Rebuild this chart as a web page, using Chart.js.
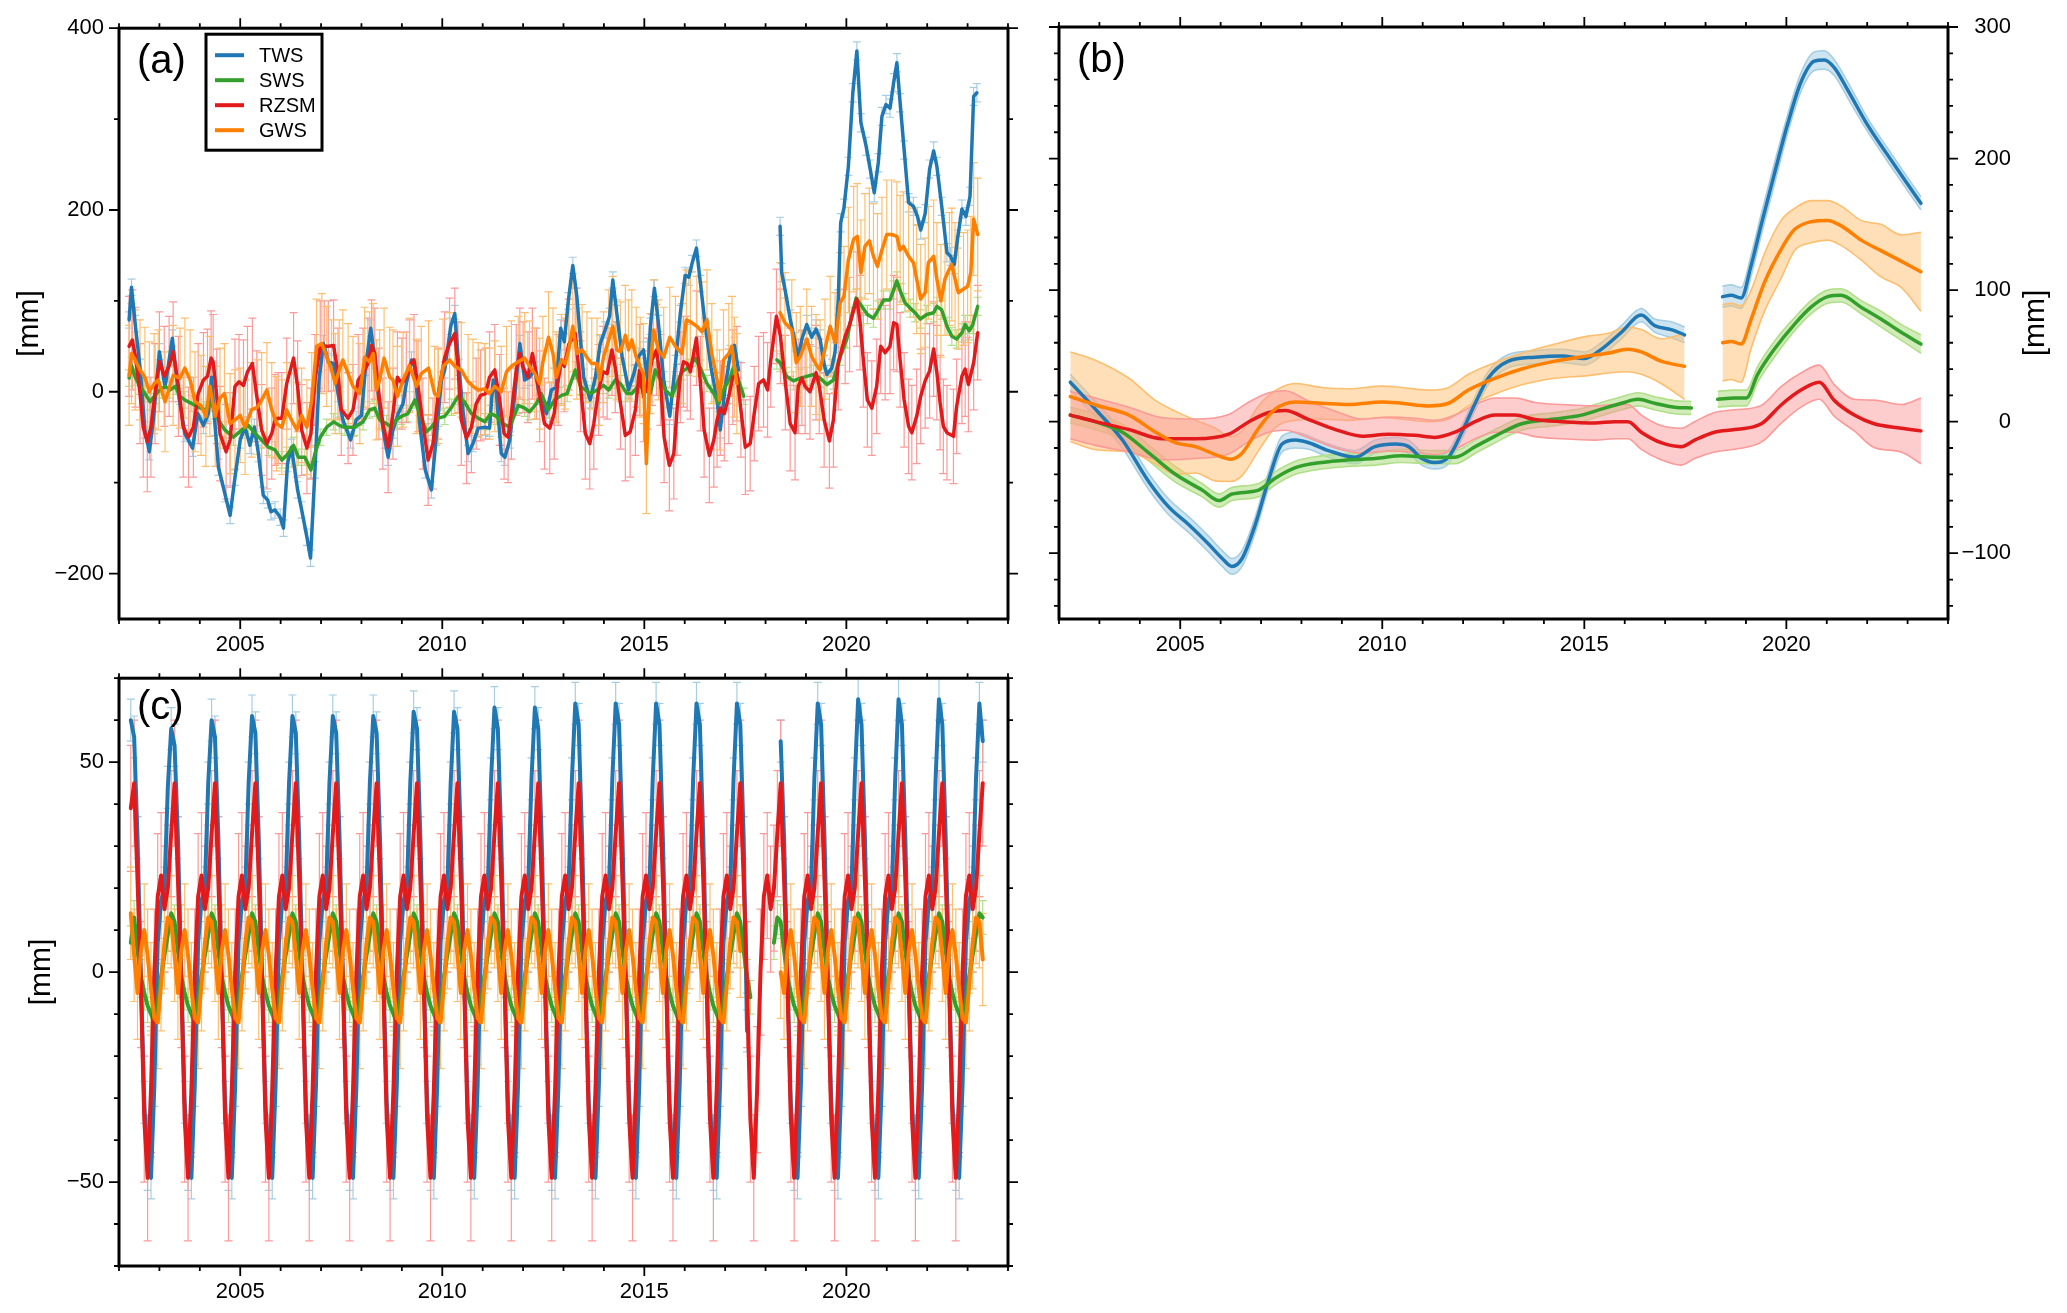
<!DOCTYPE html>
<html>
<head>
<meta charset="utf-8">
<script src="https://cdn.jsdelivr.net/npm/chart.js@4.4.1/dist/chart.umd.min.js"></script>
<style>
  html, body { margin: 0; padding: 0; background: #fff; }
  #wrap { position: relative; width: 2067px; height: 1313px; overflow: hidden; }
  canvas { position: absolute; }
</style>
</head>
<body>
<div id="wrap">
  <canvas id="chartA" width="1040" height="672" style="left:0;top:0;width:1040px;height:672px"></canvas>
  <canvas id="chartB" width="1027" height="672" style="left:1040px;top:0;width:1027px;height:672px"></canvas>
  <canvas id="chartC" width="1040" height="663" style="left:0;top:650px;width:1040px;height:663px"></canvas>
</div>
<script>
'use strict';

//----- data -----

const seriesNames = ['TWS', 'SWS', 'RZSM', 'GWS'];
const xLabels = [2005, 2010, 2015, 2020];

// panel (a): monthly anomalies [mm]
const twsA_t = [
  2002.25, 2002.31, 2002.40, 2002.52, 2002.64, 2002.75, 2002.85, 2003.00, 2003.14, 2003.32,
  2003.47, 2003.63, 2003.82, 2003.95, 2004.09, 2004.21, 2004.29, 2004.38, 2004.46, 2004.62,
  2004.75, 2004.87, 2005.00, 2005.12, 2005.24, 2005.35, 2005.45, 2005.57, 2005.68, 2005.76,
  2005.86, 2005.99, 2006.07, 2006.17, 2006.27, 2006.42, 2006.52, 2006.65, 2006.74, 2006.85,
  2006.95, 2007.06, 2007.18, 2007.31, 2007.42, 2007.54, 2007.73, 2007.87, 2008.00, 2008.10,
  2008.23, 2008.33, 2008.45, 2008.58, 2008.66, 2008.78, 2008.91, 2009.03, 2009.11, 2009.24,
  2009.32, 2009.44, 2009.58, 2009.73, 2009.85, 2009.98, 2010.06, 2010.21, 2010.31, 2010.41,
  2010.51, 2010.64, 2010.76, 2010.89, 2011.05, 2011.17, 2011.26, 2011.34, 2011.46, 2011.55,
  2011.67, 2011.79, 2011.92, 2012.04, 2012.16, 2012.29, 2012.41, 2012.58, 2012.70, 2012.82,
  2012.93, 2013.02, 2013.12, 2013.23, 2013.33, 2013.42, 2013.50, 2013.66, 2013.79, 2013.91,
  2014.03, 2014.14, 2014.22, 2014.32, 2014.45, 2014.61, 2014.74, 2014.86, 2014.98, 2015.08,
  2015.15, 2015.25, 2015.35, 2015.48, 2015.63, 2015.77, 2015.89, 2016.01, 2016.10, 2016.18,
  2016.29, 2016.39, 2016.51, 2016.65, 2016.80, 2016.88, 2017.00, 2017.13, 2017.23, 2017.33,
  2017.85, 2018.36, 2018.40, 2018.48, 2018.61, 2018.73, 2018.81, 2018.90, 2019.02, 2019.14,
  2019.25, 2019.35, 2019.45, 2019.52, 2019.64, 2019.72, 2019.80, 2019.86, 2019.94, 2020.05,
  2020.16, 2020.26, 2020.36, 2020.49, 2020.59, 2020.69, 2020.79, 2020.88, 2020.98, 2021.08,
  2021.17, 2021.25, 2021.33, 2021.43, 2021.54, 2021.66, 2021.76, 2021.84, 2021.95, 2022.06,
  2022.16, 2022.24, 2022.36, 2022.49, 2022.58, 2022.67, 2022.75, 2022.86, 2022.96, 2023.06,
  2023.15, 2023.23
];
const twsA_v = [
  79, 115, 75, 27, -42, -66, -31, 44, 5, 59,
  -2, -46, -62, -24, -37, -24, 16, -39, -83, -112,
  -136, -94, -53, -39, -59, -39, -68, -114, -119, -132,
  -130, -138, -150, -79, -61, -108, -130, -160, -183, -86,
  13, 53, 33, 31, -2, -31, -53, -31, -26, 27,
  70, 35, -17, -53, -72, -42, -24, -13, 9, 35,
  27, -35, -86, -108, -50, 13, 24, 72, 86, 27,
  -20, -68, -57, -40, -39, -40, 13, -2, -68, -72,
  -53, -5, 53, 13, 16, 24, -5, -24, 2, 5,
  70, 55, 100, 139, 105, 57, 16, -9, 16, 53,
  68, 83, 123, 86, 39, 2, 20, 39, 46, 13,
  72, 114, 75, 13, -27, 31, 86, 128, 126, 141,
  158, 119, 72, 27, -9, -42, 5, 42, 51, 24,
  null, 182, 131, 113, 80, 55, 37, 58, 74, 60,
  69, 58, 30, 19, 26, 44, 102, 186, 202, 248,
  329, 375, 296, 270, 245, 219, 252, 303, 316, 312,
  340, 362, 318, 266, 208, 204, 193, 178, 196, 245,
  265, 248, 204, 153, 149, 140, 168, 201, 193, 215,
  325, 329
];

const swsA_t = [
  2002.25, 2002.31, 2002.40, 2002.52, 2002.64, 2002.77, 2002.89, 2003.01, 2003.14, 2003.26,
  2003.39, 2003.51, 2003.63, 2003.80, 2003.96, 2004.13, 2004.29, 2004.46, 2004.62, 2004.83,
  2005.04, 2005.20, 2005.37, 2005.53, 2005.70, 2005.86, 2006.03, 2006.15, 2006.32, 2006.44,
  2006.60, 2006.75, 2006.85, 2006.98, 2007.14, 2007.31, 2007.45, 2007.59, 2007.83, 2008.04,
  2008.20, 2008.33, 2008.45, 2008.62, 2008.74, 2008.86, 2008.99, 2009.15, 2009.32, 2009.44,
  2009.61, 2009.73, 2009.90, 2010.06, 2010.23, 2010.39, 2010.55, 2010.72, 2010.89, 2011.05,
  2011.20, 2011.34, 2011.50, 2011.67, 2011.88, 2012.04, 2012.16, 2012.33, 2012.45, 2012.62,
  2012.78, 2012.95, 2013.09, 2013.29, 2013.42, 2013.54, 2013.66, 2013.83, 2013.99, 2014.12,
  2014.28, 2014.41, 2014.57, 2014.69, 2014.86, 2015.02, 2015.15, 2015.27, 2015.40, 2015.52,
  2015.68, 2015.81, 2015.93, 2016.10, 2016.26, 2016.39, 2016.55, 2016.72, 2016.84, 2016.96,
  2017.13, 2017.21, 2017.33, 2017.46, 2017.85, 2018.28, 2018.36, 2018.52, 2018.69, 2018.86,
  2019.02, 2019.19, 2019.35, 2019.52, 2019.68, 2019.85, 2020.01, 2020.13, 2020.24, 2020.38,
  2020.52, 2020.67, 2020.79, 2020.92, 2021.08, 2021.17, 2021.25, 2021.35, 2021.45, 2021.58,
  2021.70, 2021.83, 2021.99, 2022.16, 2022.24, 2022.36, 2022.49, 2022.61, 2022.73, 2022.86,
  2022.94, 2023.04, 2023.13, 2023.25
];
const swsA_v = [
  15, 29, 16, 6, -2, -11, -4, 2, 6, 2,
  6, -5, -9, -13, -17, -20, -13, -31, -42, -50,
  -42, -37, -46, -53, -61, -64, -75, -70, -59, -72,
  -72, -86, -68, -50, -39, -33, -37, -39, -39, -33,
  -20, -18, -31, -35, -39, -31, -27, -24, -9, -24,
  -44, -39, -29, -27, -17, -5, -11, -24, -29, -33,
  -24, -27, -35, -39, -15, -18, -22, -13, -2, -20,
  -9, -4, -2, 24, 6, 2, -2, 2, 7, 2,
  13, 9, -2, -2, 7, 2, -2, 24, 13, 2,
  -5, 9, 22, 27, 37, 26, 9, -2, -13, 2,
  16, 27, 13, -5, null, 35, 32, 17, 12, 15,
  17, 19, 15, 8, 13, 39, 58, 83, 103, 94,
  85, 81, 90, 101, 101, 112, 122, 109, 98, 92,
  87, 80, 85, 87, 94, 90, 72, 61, 58, 65,
  74, 67, 74, 94
];

const rzsmA_t = [
  2002.25, 2002.33, 2002.41, 2002.52, 2002.60, 2002.70, 2002.79, 2002.89, 2003.00, 2003.12,
  2003.24, 2003.34, 2003.47, 2003.59, 2003.72, 2003.84, 2003.96, 2004.09, 2004.19, 2004.28,
  2004.33, 2004.42, 2004.50, 2004.65, 2004.75, 2004.87, 2004.97, 2005.08, 2005.18, 2005.30,
  2005.41, 2005.53, 2005.66, 2005.78, 2005.86, 2005.94, 2006.03, 2006.15, 2006.32, 2006.42,
  2006.52, 2006.65, 2006.75, 2006.85, 2006.98, 2007.08, 2007.18, 2007.31, 2007.42, 2007.50,
  2007.67, 2007.79, 2007.92, 2008.04, 2008.16, 2008.25, 2008.33, 2008.43, 2008.53, 2008.66,
  2008.78, 2008.89, 2009.00, 2009.11, 2009.19, 2009.30, 2009.40, 2009.52, 2009.65, 2009.77,
  2009.90, 2010.06, 2010.18, 2010.31, 2010.39, 2010.47, 2010.60, 2010.72, 2010.84, 2010.95,
  2011.07, 2011.17, 2011.30, 2011.42, 2011.53, 2011.63, 2011.71, 2011.83, 2011.92, 2012.00,
  2012.12, 2012.23, 2012.33, 2012.41, 2012.53, 2012.66, 2012.77, 2012.87, 2012.95, 2013.02,
  2013.13, 2013.29, 2013.42, 2013.54, 2013.65, 2013.75, 2013.87, 2013.98, 2014.08, 2014.20,
  2014.28, 2014.41, 2014.53, 2014.65, 2014.78, 2014.88, 2014.98, 2015.08, 2015.19, 2015.30,
  2015.40, 2015.49, 2015.62, 2015.73, 2015.81, 2015.89, 2015.97, 2016.06, 2016.14, 2016.29,
  2016.39, 2016.48, 2016.61, 2016.72, 2016.80, 2016.88, 2016.98, 2017.09, 2017.19, 2017.29,
  2017.39, 2017.50, 2017.62, 2017.72, 2017.83, 2017.95, 2018.05, 2018.13, 2018.27, 2018.37,
  2018.49, 2018.61, 2018.73, 2018.81, 2018.90, 2018.98, 2019.10, 2019.25, 2019.33, 2019.45,
  2019.58, 2019.68, 2019.80, 2019.97, 2020.08, 2020.26, 2020.34, 2020.42, 2020.52, 2020.63,
  2020.75, 2020.85, 2020.96, 2021.08, 2021.17, 2021.25, 2021.33, 2021.43, 2021.54, 2021.62,
  2021.74, 2021.84, 2021.95, 2022.06, 2022.16, 2022.24, 2022.32, 2022.40, 2022.49, 2022.65,
  2022.73, 2022.86, 2022.94, 2023.02, 2023.15, 2023.25
];
const rzsmA_v = [
  50, 57, 38, -2, -39, -55, -39, -2, 33, 17,
  28, 44, 6, -39, -50, -39, -2, 13, 17, 37,
  33, -5, -46, -66, -53, 6, 11, 7, 22, 31,
  -5, -42, -57, -46, -31, -29, -29, 9, 37, 6,
  -42, -62, -46, 13, 50, 50, 50, 51, 20, -20,
  -29, -20, 13, 20, 31, 51, 42, -2, -35, -61,
  -24, 16, 9, 16, 29, 35, 6, -35, -75, -57,
  -2, 38, 53, 64, 27, -31, -51, -39, -13, -4,
  -2, 16, 24, -9, -46, -50, -24, 24, 42, 27,
  16, 42, 20, -5, -35, -40, -24, 13, 35, 28,
  52, 64, 6, -46, -57, -35, 2, 22, 20, 46,
  27, -13, -48, -44, -20, 24, -5, 9, 35, 46,
  13, -50, -81, -68, -20, 16, 33, 31, 22, 59,
  9, -42, -70, -53, -31, -18, -24, -5, 16, 20,
  -20, -61, -57, -24, 9, 13, 2, 35, 83, 61,
  10, -35, -45, 6, 15, 6, 0, 21, 6, -31,
  -54, -31, 32, 61, 74, 102, 76, 35, -9, -18,
  6, 50, 43, 50, 76, 74, 35, -9, -38, -45,
  -27, -5, 12, 23, 47, 21, -12, -38, -45, -49,
  -16, 17, 25, 8, 32, 65
];

const gwsA_t = [
  2002.25, 2002.31, 2002.40, 2002.52, 2002.64, 2002.75, 2002.87, 2002.97, 2003.14, 2003.34,
  2003.51, 2003.63, 2003.76, 2003.88, 2004.03, 2004.15, 2004.25, 2004.38, 2004.50, 2004.61,
  2004.75, 2004.87, 2005.00, 2005.12, 2005.28, 2005.43, 2005.53, 2005.66, 2005.78, 2005.90,
  2006.03, 2006.15, 2006.27, 2006.40, 2006.52, 2006.65, 2006.77, 2006.89, 2007.02, 2007.14,
  2007.26, 2007.35, 2007.45, 2007.54, 2007.67, 2007.79, 2007.96, 2008.08, 2008.20, 2008.29,
  2008.37, 2008.45, 2008.56, 2008.70, 2008.78, 2008.89, 2009.03, 2009.19, 2009.36, 2009.48,
  2009.66, 2009.81, 2009.90, 2010.02, 2010.18, 2010.31, 2010.47, 2010.64, 2010.76, 2010.89,
  2011.05, 2011.17, 2011.30, 2011.46, 2011.59, 2011.71, 2011.88, 2012.04, 2012.16, 2012.29,
  2012.41, 2012.49, 2012.63, 2012.74, 2012.82, 2012.95, 2013.04, 2013.13, 2013.23, 2013.33,
  2013.46, 2013.58, 2013.70, 2013.83, 2013.89, 2013.99, 2014.12, 2014.22, 2014.32, 2014.41,
  2014.53, 2014.61, 2014.69, 2014.80, 2014.90, 2014.98, 2015.05, 2015.15, 2015.23, 2015.35,
  2015.48, 2015.63, 2015.77, 2015.93, 2016.04, 2016.14, 2016.30, 2016.43, 2016.55, 2016.67,
  2016.80, 2016.86, 2016.96, 2017.09, 2017.17, 2017.23, 2017.29, 2017.85, 2018.36, 2018.48,
  2018.65, 2018.76, 2018.86, 2019.02, 2019.14, 2019.25, 2019.35, 2019.47, 2019.60, 2019.72,
  2019.85, 2019.94, 2020.05, 2020.18, 2020.27, 2020.36, 2020.46, 2020.57, 2020.67, 2020.77,
  2020.88, 2021.00, 2021.12, 2021.25, 2021.33, 2021.41, 2021.54, 2021.66, 2021.74, 2021.84,
  2021.95, 2022.03, 2022.16, 2022.24, 2022.34, 2022.44, 2022.55, 2022.61, 2022.69, 2022.77,
  2022.90, 2023.00, 2023.08, 2023.15, 2023.25
];
const gwsA_v = [
  18, 42, 35, 24, 16, 0, 9, 13, -11, 18,
  15, 26, 13, -11, -15, -27, 6, -27, -7, -2,
  -35, -31, -26, -39, -20, -17, -9, 2, -20, -35,
  -39, -20, -31, -42, -26, -39, -9, 50, 53, 39,
  24, 9, 24, 35, 20, 6, -2, 38, 33, 42,
  2, 13, 37, 16, 13, -5, 13, 29, 6, 20,
  26, -2, -5, 28, 35, 28, 24, 11, 6, 2,
  3, -2, 6, 0, 22, 28, 33, 37, 28, 20,
  9, 33, 60, 42, 16, 35, 31, 46, 72, 42,
  46, 38, 31, 31, 13, 38, 57, 72, 46, 44,
  62, 46, 57, 38, 27, 20, -79, 31, 68, 46,
  38, 60, 50, 42, 79, 77, 72, 66, 79, 42,
  13, -9, 35, 42, 50, 27, 9, null, 87, 76,
  68, 32, 39, 58, 39, 30, 24, 47, 72, 54,
  98, 105, 145, 168, 171, 131, 160, 166, 149, 138,
  156, 173, 173, 171, 156, 160, 149, 142, 124, 102,
  109, 142, 149, 124, 100, 124, 135, 140, 124, 109,
  113, 116, 131, 190, 173
];

// error half-widths per calendar year 2002..2023 [mm]
const errA_tws  = [9, 9, 9, 9, 9, 9, 9, 9, 9, 9, 9, 9, 9, 9, 9, 9, 10, 10, 10, 10, 10, 10];
const errA_sws  = [9, 9, 9, 9, 9, 9, 9, 9, 9, 9, 9, 9, 9, 9, 9, 9, 10, 10, 10, 10, 10, 10];
const errA_rzsm = [55, 55, 52, 50, 50, 50, 50, 50, 50, 50, 50, 50, 50, 50, 52, 52, 52, 52, 52, 52, 52, 52];
const errA_gws  = [55, 55, 55, 52, 52, 55, 55, 52, 52, 50, 50, 50, 55, 55, 55, 55, 55, 55, 58, 60, 62, 62];

// panel (b): long-term component [mm]
const twsB_t = [
  2002.28, 2002.90, 2003.57, 2004.23, 2004.72, 2005.20, 2005.70, 2006.04, 2006.28, 2006.53,
  2006.86, 2007.20, 2007.52, 2007.85, 2008.18, 2008.67, 2009.33, 2009.82, 2010.32, 2010.65,
  2010.98, 2011.30, 2011.64, 2011.97, 2012.30, 2012.62, 2013.12, 2013.78, 2014.43, 2015.01,
  2015.42, 2015.92, 2016.41, 2016.74, 2017.15, 2017.48, 2017.90, 2018.42, 2018.63, 2018.88,
  2019.13, 2019.38, 2019.70, 2020.03, 2020.36, 2020.69, 2020.94, 2021.19, 2021.52, 2022.00,
  2022.50, 2022.90, 2023.33
];
const twsB_v = [
  30, 9.5, -14, -46, -65, -78, -93, -104, -110, -104,
  -78, -43, -17, -14, -16, -22, -27, -19, -17, -19,
  -28, -31, -27, -8, 14, 33, 46, 49, 50, 48,
  55, 68, 81, 73, 70, 66, null, 95, 96, 94,
  119, 150, 188, 226, 258, 274, 275, 269, 252, 226,
  203, 185, 166
];
const swsB_t = [
  2002.28, 2002.90, 2003.57, 2004.23, 2004.88, 2005.54, 2005.96, 2006.28, 2006.94, 2007.35,
  2007.85, 2008.50, 2009.17, 2009.82, 2010.48, 2011.30, 2011.80, 2012.30, 2012.79, 2013.45,
  2014.27, 2014.93, 2015.42, 2015.92, 2016.33, 2016.74, 2017.23, 2017.65, 2017.95, 2018.30,
  2018.72, 2019.01, 2019.29, 2019.70, 2020.20, 2020.61, 2021.02, 2021.35, 2021.85, 2022.34,
  2022.84, 2023.33
];
const swsB_v = [
  5, 0, -8, -24, -40, -52, -60, -55, -52, -43,
  -35, -31, -29, -28, -26, -27, -27, -19, -11, -1.6,
  2, 5, 9.5, 14, 17, 14, 11, 10.4, null, 17,
  18, 18, 36, 55, 74, 87, 95, 96, 87, 78,
  68, 59
];
const rzsmB_t = [
  2002.28, 2002.90, 2003.73, 2004.56, 2005.38, 2006.20, 2006.70, 2007.19, 2007.60, 2008.18,
  2008.84, 2009.50, 2010.15, 2010.81, 2011.30, 2011.80, 2012.30, 2012.79, 2013.28, 2013.78,
  2014.43, 2015.26, 2015.75, 2016.08, 2016.41, 2016.90, 2017.40, 2017.73, 2018.22, 2018.72,
  2019.38, 2019.87, 2020.36, 2020.81, 2021.19, 2021.68, 2022.17, 2022.84, 2023.33
];
const rzsmB_v = [
  5, 0, -6, -13, -13, -9.5, 0, 7, 8.5, 1.6,
  -6, -11, -9.5, -10.4, -12, -8, 0, 5, 5, 1.6,
  0, -1, 0, 0, -8, -16, -19, -14, -8, -6,
  -1.6, 12.7, 24, 30, 16, 5, -1.6, -5, -7
];
const gwsB_t = [
  2002.28, 2002.90, 2003.73, 2004.39, 2004.88, 2005.38, 2005.87, 2006.25, 2006.53, 2006.94,
  2007.35, 2007.85, 2008.50, 2009.17, 2009.99, 2010.48, 2011.14, 2011.64, 2012.13, 2012.79,
  2013.45, 2014.27, 2015.09, 2015.58, 2016.08, 2016.41, 2016.90, 2017.48, 2017.90, 2018.42,
  2018.63, 2018.88, 2019.13, 2019.46, 2019.87, 2020.20, 2020.61, 2021.02, 2021.35, 2021.85,
  2022.34, 2022.84, 2023.33
];
const gwsB_v = [
  19, 12.7, 5, -8, -16, -19, -25, -28.5, -24, -5,
  9.5, 15, 14, 13, 15, 14, 12, 14, 24, 33,
  40, 46, 50, 52, 55, 53, 46, 42, null, 60,
  61, 59, 78, 106, 131, 146, 152, 153, 149, 138,
  130, 122, 114
];

const errB_tws  = [6, 6, 6, 6, 6, 6, 5, 5, 5, 5, 5, 5, 5, 5, 5, 6, 8, 8, 7, 6, 5, 5];
const errB_sws  = [6, 6, 6, 5, 5, 5, 5, 5, 5, 5, 5, 5, 5, 5, 5, 5, 6, 6, 5, 5, 6, 7];
const errB_rzsm = [18, 17, 16, 15, 15, 15, 14, 13, 13, 13, 13, 13, 13, 13, 13, 14, 15, 14, 13, 12, 18, 25];
const errB_gws  = [34, 28, 24, 20, 17, 14, 12, 12, 12, 12, 12, 12, 13, 15, 17, 25, 29, 22, 16, 15, 20, 30];

// panel (c): seasonal component, one row per year (Jan..Dec) [mm]
const yearsC = [2002, 2003, 2004, 2005, 2006, 2007, 2008, 2009, 2010, 2011, 2012,
                2013, 2014, 2015, 2016, 2017, 2018, 2019, 2020, 2021, 2022, 2023];
const twsC = [
  [null, null, null, 60, 56, 32, -1, -31, -47, -49, -27, 7],
  [17, 20, 44, 58, 54, 32, -1, -31, -47, -49, -27, 7],
  [17, 20, 45, 60, 56, 32, -1, -31, -47, -49, -27, 7],
  [17, 20, 45, 61, 57, 32, -1, -31, -47, -49, -27, 7],
  [17, 20, 45, 61, 57, 32, -1, -31, -47, -49, -27, 7],
  [17, 20, 45, 61, 57, 32, -1, -31, -47, -49, -27, 7],
  [17, 20, 45, 61, 57, 32, -1, -31, -47, -49, -27, 7],
  [17, 20, 45, 62, 58, 32, -1, -31, -47, -49, -27, 7],
  [17, 20, 45, 62, 58, 32, -1, -31, -47, -49, -27, 7],
  [17, 20, 46, 63, 58, 32, -1, -31, -47, -49, -27, 7],
  [17, 20, 46, 63, 58, 32, -1, -31, -47, -49, -27, 7],
  [17, 20, 46, 64, 59, 32, -1, -31, -47, -49, -27, 7],
  [17, 20, 46, 64, 59, 32, -1, -31, -47, -49, -27, 7],
  [17, 20, 46, 64, 59, 32, -1, -31, -47, -49, -27, 7],
  [17, 20, 46, 64, 59, 32, -1, -31, -47, -49, -27, 7],
  [17, 20, 46, 64, 59, 32, -14, null, null, null, null, null],
  [null, null, null, null, 55, 32, -1, -31, -47, -49, -27, 7],
  [17, 20, 46, 64, 59, 32, -1, -31, -47, -49, -27, 7],
  [17, 20, 46, 65, 59, 32, -1, -31, -47, -49, -27, 7],
  [17, 20, 46, 65, 59, 32, -1, -31, -47, -49, -27, 7],
  [17, 20, 46, 65, 59, 32, -1, -31, -47, -49, -27, 7],
  [17, 20, 46, 64, 55]
];
const swsC = [
  [null, null, null, 7, 13, 5, -1, -5, -8, -10, -12, -7],
  [-1, 4, 9, 14, 12, 5, -1, -5, -8, -10, -12, -7],
  [-1, 4, 9, 14, 12, 5, -1, -5, -8, -10, -12, -7],
  [-1, 4, 9, 14, 12, 5, -1, -5, -8, -10, -12, -7],
  [-1, 4, 9, 14, 12, 5, -1, -5, -8, -10, -12, -7],
  [-1, 4, 9, 14, 12, 5, -1, -5, -8, -10, -12, -7],
  [-1, 4, 9, 14, 12, 5, -1, -5, -8, -10, -12, -7],
  [-1, 4, 9, 14, 12, 5, -1, -5, -8, -10, -12, -7],
  [-1, 4, 9, 14, 12, 5, -1, -5, -8, -10, -12, -7],
  [-1, 4, 9, 14, 12, 5, -1, -5, -8, -10, -12, -7],
  [-1, 4, 9, 14, 12, 5, -1, -5, -8, -10, -12, -7],
  [-1, 4, 9, 14, 12, 5, -1, -5, -8, -10, -12, -7],
  [-1, 4, 9, 14, 12, 5, -1, -5, -8, -10, -12, -7],
  [-1, 4, 9, 14, 12, 5, -1, -5, -8, -10, -12, -7],
  [-1, 4, 9, 14, 12, 5, -1, -5, -8, -10, -12, -7],
  [-1, 4, 9, 14, 12, 5, -1, -6, null, null, null, null],
  [null, null, 7, 13, 12, 5, -1, -5, -8, -10, -12, -7],
  [-1, 4, 9, 14, 12, 5, -1, -5, -8, -10, -12, -7],
  [-1, 4, 9, 14, 12, 5, -1, -5, -8, -10, -12, -7],
  [-1, 4, 9, 14, 12, 5, -1, -5, -8, -10, -12, -7],
  [-1, 4, 9, 14, 12, 5, -1, -5, -8, -10, -12, -7],
  [-1, 4, 9, 14, 13]
];
const rzsmC = [
  [null, null, null, 39, 45, 22, -3, -35, -49, -28, 0, 18],
  [23, 15, 20, 33, 45, 22, -3, -35, -49, -28, 0, 18],
  [23, 15, 20, 33, 45, 22, -3, -35, -49, -28, 0, 18],
  [23, 15, 20, 33, 45, 22, -3, -35, -49, -28, 0, 18],
  [23, 15, 20, 33, 45, 22, -3, -35, -49, -28, 0, 18],
  [23, 15, 20, 33, 45, 22, -3, -35, -49, -28, 0, 18],
  [23, 15, 20, 33, 45, 22, -3, -35, -49, -28, 0, 18],
  [23, 15, 20, 33, 45, 22, -3, -35, -49, -28, 0, 18],
  [23, 15, 20, 33, 45, 22, -3, -35, -49, -28, 0, 18],
  [23, 15, 20, 33, 45, 22, -3, -35, -49, -28, 0, 18],
  [23, 15, 20, 33, 45, 22, -3, -35, -49, -28, 0, 18],
  [23, 15, 20, 33, 45, 22, -3, -35, -49, -28, 0, 18],
  [23, 15, 20, 33, 45, 22, -3, -35, -49, -28, 0, 18],
  [23, 15, 20, 33, 45, 22, -3, -35, -49, -28, 0, 18],
  [23, 15, 20, 33, 45, 22, -3, -35, -49, -28, 0, 18],
  [23, 15, 20, 33, 45, 22, -3, -35, -49, -28, 0, 18],
  [23, 15, 20, 33, 45, 22, -3, -35, -49, -28, 0, 18],
  [23, 15, 20, 33, 45, 22, -3, -35, -49, -28, 0, 18],
  [23, 15, 20, 33, 45, 22, -3, -35, -49, -28, 0, 18],
  [23, 15, 20, 33, 45, 22, -3, -35, -49, -28, 0, 18],
  [23, 15, 20, 33, 45, 22, -3, -35, -49, -28, 0, 18],
  [23, 15, 20, 33, 45]
];
const gwsC = [
  [null, null, null, 14, 4, -5, 5, 10, 4, -4, -11, -12],
  [-3, 7, 13, 12, 4, -5, 5, 10, 4, -4, -11, -12],
  [-3, 7, 13, 12, 4, -5, 5, 10, 4, -4, -11, -12],
  [-3, 7, 13, 12, 4, -5, 5, 10, 4, -4, -11, -12],
  [-3, 7, 13, 12, 4, -5, 5, 10, 4, -4, -11, -12],
  [-3, 7, 13, 12, 4, -5, 5, 10, 4, -4, -11, -12],
  [-3, 7, 13, 12, 4, -5, 5, 10, 4, -4, -11, -12],
  [-3, 7, 13, 12, 4, -5, 5, 10, 4, -4, -11, -12],
  [-3, 7, 13, 12, 4, -5, 5, 10, 4, -4, -11, -12],
  [-3, 7, 13, 12, 4, -5, 5, 10, 4, -4, -11, -12],
  [-3, 7, 13, 12, 4, -5, 5, 10, 4, -4, -11, -12],
  [-3, 7, 13, 12, 4, -5, 5, 10, 4, -4, -11, -12],
  [-3, 7, 13, 12, 4, -5, 5, 10, 4, -4, -11, -12],
  [-3, 7, 13, 12, 4, -5, 5, 10, 4, -4, -11, -12],
  [-3, 7, 13, 12, 4, -5, 5, 10, 4, -4, -11, -12],
  [-3, 7, 13, 12, 5, null, null, null, null, null, null, null],
  [null, null, null, null, 0, -5, 5, 10, 4, -4, -11, -12],
  [-3, 7, 13, 12, 4, -5, 5, 10, 4, -4, -11, -12],
  [-3, 7, 13, 12, 4, -5, 5, 10, 4, -4, -11, -12],
  [-3, 7, 13, 12, 4, -5, 5, 10, 4, -4, -11, -12],
  [-3, 7, 13, 12, 4, -5, 5, 10, 4, -4, -11, -12],
  [-3, 7, 13, 12, 3]
];
const errC_tws = 5;
const errC_sws = 4;
const errC_rzsm = 15;
const errC_gws = 11;

//----- styles -----

const COLOR = { tws: '#1f78b4', sws: '#33a02c', rzsm: '#e31a1c', gws: '#ff7f00' };
const LIGHT = { tws: '#a6cee3', sws: '#b2df8a', rzsm: '#fb9a99', gws: '#fdbf6f' };
const BAND  = { tws: 'rgba(166,206,227,0.55)', sws: 'rgba(178,223,138,0.6)',
                rzsm: 'rgba(251,154,153,0.5)', gws: 'rgba(253,191,111,0.5)' };
const FONT = '"Liberation Sans", Arial, Helvetica, sans-serif';

Chart.defaults.font.family = FONT;
Chart.defaults.color = '#000';
Chart.defaults.animation = false;

//----- helpers -----

const pts = (ts, vs) => ts.map((t, i) => ({ x: t, y: vs[i] }));
const yearErr = (ts, table) =>
  ts.map(t => table[Math.min(table.length - 1, Math.max(0, Math.floor(t) - 2002))]);
const minus = v => String(v).replace('-', '\u2212');

function monthly(rows) {
  const out = [];
  rows.forEach((row, yi) => row.forEach((v, m) => out.push({ x: yearsC[yi] + (m + 0.5) / 12, y: v })));
  return out;
}

function lineDs(key, data, errs, order, width, smooth) {
  return {
    label: key, data, errs, errColor: LIGHT[key],
    borderColor: COLOR[key], borderWidth: width, pointRadius: 0, fill: false,
    spanGaps: false, order, borderJoinStyle: 'round', borderCapStyle: 'round',
    tension: 0, cubicInterpolationMode: smooth ? 'monotone' : 'default'
  };
}

// band edges for panel (b)
function bandDs(key, ts, vs, table) {
  const e = yearErr(ts, table);
  const lo = ts.map((t, i) => ({ x: t, y: vs[i] == null ? null : vs[i] - e[i] }));
  const hi = ts.map((t, i) => ({ x: t, y: vs[i] == null ? null : vs[i] + e[i] }));
  const common = { borderColor: LIGHT[key], borderWidth: 1.6, pointRadius: 0, spanGaps: false,
                   order: 10, cubicInterpolationMode: 'monotone' };
  return [
    Object.assign({ label: key + ' lo', data: lo, fill: false }, common),
    Object.assign({ label: key + ' hi', data: hi, fill: '-1', backgroundColor: BAND[key] }, common)
  ];
}

//----- plugins -----

const errorBarPlugin = {
  id: 'errorBars',
  beforeDatasetsDraw(chart) {
    const { ctx, chartArea: a, scales: { x, y } } = chart;
    ctx.save();
    ctx.beginPath();
    ctx.rect(a.left, a.top, a.width, a.height);
    ctx.clip();
    chart.data.datasets.forEach(ds => {
      if (!ds.errs) return;
      ctx.strokeStyle = ds.errColor;
      ctx.lineWidth = 1.2;
      ctx.beginPath();
      ds.data.forEach((p, i) => {
        if (p.y == null) return;
        const e = Array.isArray(ds.errs) ? ds.errs[i] : ds.errs;
        const px = x.getPixelForValue(p.x);
        const y1 = y.getPixelForValue(p.y - e);
        const y2 = y.getPixelForValue(p.y + e);
        ctx.moveTo(px, y1); ctx.lineTo(px, y2);
        ctx.moveTo(px - 4, y1); ctx.lineTo(px + 4, y1);
        ctx.moveTo(px - 4, y2); ctx.lineTo(px + 4, y2);
      });
      ctx.stroke();
    });
    ctx.restore();
  }
};

// GMT-like frame with outward ticks on every side
const framePlugin = {
  id: 'frame',
  afterDraw(chart, args, o) {
    const { ctx, chartArea: a, scales: { x, y } } = chart;
    ctx.save();
    ctx.strokeStyle = '#000';
    ctx.lineWidth = 1.8;
    ctx.beginPath();
    for (let v = 2002; v <= 2024; v++) {
      const p = x.getPixelForValue(v);
      const L = v % 5 === 0 ? 10 : 5;
      ctx.moveTo(p, a.bottom); ctx.lineTo(p, a.bottom + L);
      ctx.moveTo(p, a.top); ctx.lineTo(p, a.top - L);
    }
    for (let v = o.yStart; v <= y.max + 1e-6; v += o.yMinor) {
      const p = y.getPixelForValue(v);
      const L = v % o.yMajor === 0 ? 10 : 5;
      ctx.moveTo(a.left, p); ctx.lineTo(a.left - L, p);
      ctx.moveTo(a.right, p); ctx.lineTo(a.right + L, p);
    }
    ctx.stroke();
    ctx.lineWidth = 3;
    ctx.strokeRect(a.left, a.top, a.right - a.left, a.bottom - a.top);
    ctx.restore();
  }
};

const decorPlugin = {
  id: 'decor',
  afterDraw(chart, args, o) {
    const { ctx, chartArea: a } = chart;
    ctx.save();
    ctx.fillStyle = '#000';
    ctx.font = '40px ' + FONT;
    ctx.textAlign = 'left';
    ctx.textBaseline = 'alphabetic';
    ctx.fillText(o.panel, a.left + 18, a.top + o.panelDy);
    ctx.font = '30px ' + FONT;
    ctx.translate(o.titleX, (a.top + a.bottom) / 2);
    ctx.rotate(-Math.PI / 2);
    ctx.textAlign = 'center';
    ctx.textBaseline = 'middle';
    ctx.fillText('[mm]', 0, 0);
    ctx.restore();
  }
};

const boxLegendPlugin = {
  id: 'boxLegend',
  afterDraw(chart, args, o) {
    if (!o.show) return;
    const { ctx, chartArea: a } = chart;
    const x0 = a.left + 87, y0 = a.top + 6, w = 116, h = 116;
    const keys = ['tws', 'sws', 'rzsm', 'gws'];
    ctx.save();
    ctx.fillStyle = '#fff';
    ctx.fillRect(x0, y0, w, h);
    ctx.lineWidth = 3;
    ctx.strokeStyle = '#000';
    ctx.strokeRect(x0, y0, w, h);
    ctx.font = '20px ' + FONT;
    ctx.textAlign = 'left';
    ctx.textBaseline = 'middle';
    seriesNames.forEach((name, i) => {
      const yy = y0 + 21 + i * 25;
      ctx.strokeStyle = COLOR[keys[i]];
      ctx.lineWidth = 4;
      ctx.beginPath();
      ctx.moveTo(x0 + 9, yy); ctx.lineTo(x0 + 38, yy);
      ctx.stroke();
      ctx.fillStyle = '#000';
      ctx.fillText(name, x0 + 53, yy + 1);
    });
    ctx.restore();
  }
};

//----- charts -----

function makeOptions(cfg) {
  return {
    responsive: false,
    devicePixelRatio: 1,
    animation: false,
    events: [],
    layout: { padding: cfg.padding },
    plugins: {
      legend: { display: false },
      tooltip: { enabled: false },
      frame: cfg.frame,
      decor: cfg.decor,
      boxLegend: { show: !!cfg.legend }
    },
    scales: {
      x: {
        type: 'linear', min: 2002, max: 2024,
        grid: { display: false, drawTicks: false },
        border: { display: false },
        ticks: { padding: 13, font: { size: 22 }, color: '#000', callback: v => String(v) },
        afterBuildTicks: ax => { ax.ticks = xLabels.map(v => ({ value: v })); },
        afterFit: ax => { ax.height = cfg.xH; }
      },
      y: {
        type: 'linear', position: cfg.yPos, min: cfg.yMin, max: cfg.yMax,
        grid: { display: false, drawTicks: false },
        border: { display: false },
        ticks: { padding: cfg.yPad, font: { size: 22 }, color: '#000', crossAlign: cfg.crossAlign,
                 callback: v => minus(v) },
        afterBuildTicks: ax => { ax.ticks = cfg.yLabels.map(v => ({ value: v })); },
        afterFit: ax => { ax.width = cfg.yW; }
      }
    }
  };
}

const plugins = [errorBarPlugin, framePlugin, decorPlugin, boxLegendPlugin];

new Chart(document.getElementById('chartA'), {
  type: 'line',
  data: {
    datasets: [
      lineDs('tws', pts(twsA_t, twsA_v), yearErr(twsA_t, errA_tws), 4, 3.5),
      lineDs('sws', pts(swsA_t, swsA_v), yearErr(swsA_t, errA_sws), 3, 3.5),
      lineDs('rzsm', pts(rzsmA_t, rzsmA_v), yearErr(rzsmA_t, errA_rzsm), 2, 3.5),
      lineDs('gws', pts(gwsA_t, gwsA_v), yearErr(gwsA_t, errA_gws), 1, 3.5)
    ]
  },
  options: makeOptions({
    padding: { top: 27, right: 32, left: 0, bottom: 0 },
    xH: 53, yW: 119, yPos: 'left', yPad: 15, crossAlign: 'near',
    yMin: -250, yMax: 400, yLabels: [-200, 0, 200, 400],
    frame: { yStart: -200, yMinor: 100, yMajor: 200 },
    decor: { panel: '(a)', panelDy: 45, titleX: 30 },
    legend: true
  }),
  plugins
});

new Chart(document.getElementById('chartB'), {
  type: 'line',
  data: {
    datasets: [
      ...bandDs('rzsm', rzsmB_t, rzsmB_v, errB_rzsm),
      ...bandDs('gws', gwsB_t, gwsB_v, errB_gws),
      ...bandDs('sws', swsB_t, swsB_v, errB_sws),
      ...bandDs('tws', twsB_t, twsB_v, errB_tws),
      lineDs('tws', pts(twsB_t, twsB_v), null, 4, 3.5, true),
      lineDs('sws', pts(swsB_t, swsB_v), null, 3, 3.5, true),
      lineDs('rzsm', pts(rzsmB_t, rzsmB_v), null, 2, 3.5, true),
      lineDs('gws', pts(gwsB_t, gwsB_v), null, 1, 3.5, true)
    ]
  },
  options: makeOptions({
    padding: { top: 27, right: 56, left: 19, bottom: 0 },
    xH: 53, yW: 63, yPos: 'right', yPad: 13, crossAlign: 'far',
    yMin: -150, yMax: 300, yLabels: [-100, 0, 100, 200, 300],
    frame: { yStart: -140, yMinor: 20, yMajor: 100 },
    decor: { panel: '(b)', panelDy: 45, titleX: 996 }
  }),
  plugins
});

new Chart(document.getElementById('chartC'), {
  type: 'line',
  data: {
    datasets: [
      lineDs('tws', monthly(twsC), errC_tws, 4, 4),
      lineDs('sws', monthly(swsC), errC_sws, 3, 4),
      lineDs('rzsm', monthly(rzsmC), errC_rzsm, 2, 4),
      lineDs('gws', monthly(gwsC), errC_gws, 1, 4)
    ]
  },
  options: makeOptions({
    padding: { top: 25, right: 32, left: 0, bottom: 0 },
    xH: 47, yW: 119, yPos: 'left', yPad: 15, crossAlign: 'near',
    yMin: -70, yMax: 70, yLabels: [-50, 0, 50],
    frame: { yStart: -70, yMinor: 10, yMajor: 50 },
    decor: { panel: '(c)', panelDy: 41, titleX: 42 }
  }),
  plugins
});
</script>
</body>
</html>
